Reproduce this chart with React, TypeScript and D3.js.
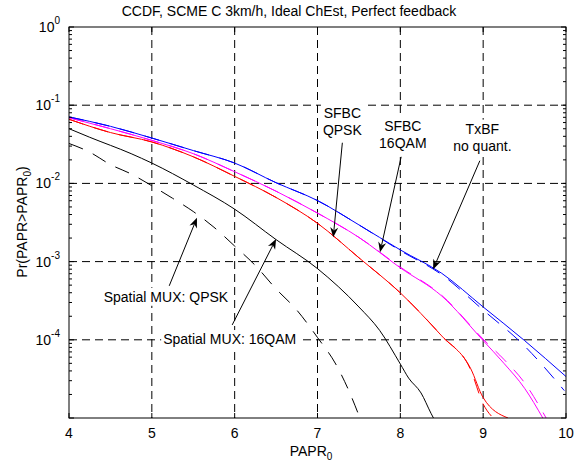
import React, { useRef, useEffect } from 'react';
import * as d3 from 'd3';

// PAPR0 values (dB) and CCDF values
const txbfSolid: [number, number][] = [
  [4, 0.0708], [4.5, 0.0537], [5, 0.038], [5.5, 0.0263], [6, 0.0182], [6.5, 0.0102],
  [7, 0.00603], [7.5, 0.00295], [8, 0.00141], [8.5, 0.000708], [9, 0.000263],
  [9.5, 0.0000977], [10, 0.0000339],
];
const txbfDashed: [number, number][] = [
  [4, 0.0708], [4.5, 0.0537], [5, 0.038], [5.5, 0.0263], [6, 0.0182], [6.5, 0.0102],
  [7, 0.00603], [7.5, 0.00295], [8, 0.00138], [8.5, 0.00068], [9, 0.00024],
  [9.5, 0.0000832], [9.98, 0.0000224],
];
const sfbc16Solid: [number, number][] = [
  [4, 0.0692], [4.5, 0.0501], [5, 0.0355], [5.5, 0.024], [6, 0.0141], [6.5, 0.00794],
  [7, 0.00417], [7.5, 0.00204], [8, 0.000832], [8.5, 0.000363], [9, 0.0000977],
  [9.25, 0.0000501], [9.5, 0.000024], [9.72, 0.00001],
];
const sfbc16Dashed: [number, number][] = [
  [4, 0.0692], [4.5, 0.0501], [5, 0.0355], [5.5, 0.024], [6, 0.0141], [6.5, 0.00794],
  [7, 0.00417], [7.5, 0.00204], [8, 0.00085], [8.5, 0.00037], [9, 0.000102],
  [9.25, 0.0000562], [9.5, 0.0000282], [9.76, 0.00001],
];
const sfbcQpskSolid: [number, number][] = [
  [4, 0.0661], [4.5, 0.0447], [5, 0.0339], [5.5, 0.0219], [6, 0.0123], [6.5, 0.00661],
  [7, 0.00309], [7.5, 0.00112], [8, 0.000398], [8.5, 0.000112], [8.85, 0.0000427],
  [9, 0.0000182], [9.3, 0.00001],
];
const sfbcQpskDashed: [number, number][] = [
  [4, 0.0661], [4.5, 0.0447], [5, 0.0339], [5.5, 0.0219], [6, 0.0123], [6.5, 0.00661],
  [7, 0.00309], [7.5, 0.00112], [8, 0.000398], [8.5, 0.000112], [8.85, 0.000041],
  [9, 0.0000151], [9.12, 0.00001],
];
const smux16Solid: [number, number][] = [
  [4, 0.0501], [4.25, 0.0389], [4.75, 0.024], [5, 0.0182], [5.5, 0.00955], [6, 0.00468],
  [6.5, 0.00191], [7, 0.000813], [7.5, 0.000263], [7.75, 0.000132], [8, 0.000049],
  [8.1, 0.0000324], [8.25, 0.0000209], [8.37, 0.0000115], [8.4, 0.00001],
];
const smuxQpskDashed: [number, number][] = [
  [4, 0.0324], [4.25, 0.0251], [4.5, 0.0174], [4.75, 0.0132], [5, 0.00933], [5.25, 0.00646],
  [5.5, 0.00437], [5.75, 0.00275], [6, 0.00158], [6.25, 0.000891], [6.5, 0.000447],
  [6.75, 0.00024], [7, 0.000107], [7.22, 0.000049], [7.37, 0.0000234], [7.52, 0.0000095],
];

const seriesList = [
  { data: smuxQpskDashed, color: '#000000', dashed: true },
  { data: smux16Solid, color: '#000000', dashed: false },
  { data: sfbcQpskDashed, color: '#ff0000', dashed: true },
  { data: sfbcQpskSolid, color: '#ff0000', dashed: false },
  { data: sfbc16Dashed, color: '#ff00ff', dashed: true },
  { data: sfbc16Solid, color: '#ff00ff', dashed: false },
  { data: txbfDashed, color: '#0000ff', dashed: true },
  { data: txbfSolid, color: '#0000ff', dashed: false },
];

const xTicks = [4, 5, 6, 7, 8, 9, 10];
const yDecades = [0, -1, -2, -3, -4];

// annotations: text centre, arrow tail and arrow tip in data units
const annotations = [
  { lines: ['SFBC', 'QPSK'], at: [7.3, -1.1], tail: [7.3, -1.48], tip: [7.19, -2.69] },
  { lines: ['SFBC', '16QAM'], at: [8.03, -1.27], tail: [8.01, -1.66], tip: [7.755, -2.88] },
  { lines: ['TxBF', 'no quant.'], at: [8.99, -1.3], tail: [8.96, -1.71], tip: [8.395, -3.1] },
  { lines: ['Spatial MUX: QPSK'], at: [5.17, -3.45], tail: [5.21, -3.31], tip: [5.545, -2.44] },
  { lines: ['Spatial MUX: 16QAM'], at: [5.94, -3.99], tail: [5.97, -3.81], tip: [6.5, -2.71] },
];

const FONT = '"Liberation Sans", Arial, sans-serif';

const CcdfChart = () => {
  const ref = useRef<SVGSVGElement>(null);

  useEffect(() => {
    const svg = d3.select(ref.current);
    svg.selectAll('*').remove();

    const left = 69, right = 566, top = 27, bottom = 418;
    const x = d3.scaleLinear().domain([4, 10]).range([left, right]);
    const y = d3.scaleLog().domain([1e-5, 1]).range([bottom, top]);

    svg.append('rect').attr('width', 574).attr('height', 467).attr('fill', '#fff');

    // grid
    const grid = svg.append('g').attr('stroke', '#000').attr('stroke-width', 1).attr('stroke-dasharray', '8,5');
    xTicks.slice(1, -1).forEach(t => {
      grid.append('line').attr('x1', x(t)).attr('x2', x(t)).attr('y1', top).attr('y2', bottom);
    });
    yDecades.slice(1).forEach(e => {
      grid.append('line').attr('x1', left).attr('x2', right).attr('y1', y(10 ** e)).attr('y2', y(10 ** e));
    });

    // curves
    svg.append('clipPath').attr('id', 'plotclip')
      .append('rect').attr('x', left).attr('y', top).attr('width', right - left).attr('height', bottom - top);
    const line = d3.line<[number, number]>()
      .x(d => x(d[0]))
      .y(d => y(d[1]))
      .curve(d3.curveMonotoneX);
    const curves = svg.append('g').attr('clip-path', 'url(#plotclip)');
    seriesList.forEach(s => {
      curves.append('path')
        .attr('d', line(s.data))
        .attr('fill', 'none')
        .attr('stroke', s.color)
        .attr('stroke-width', 1)
        .attr('stroke-dasharray', s.dashed ? '15,11' : null);
    });

    // axes box and ticks
    const axes = svg.append('g').attr('stroke', '#000').attr('stroke-width', 1);
    axes.append('rect').attr('x', left).attr('y', top).attr('width', right - left).attr('height', bottom - top)
      .attr('fill', 'none');
    xTicks.forEach(t => {
      axes.append('line').attr('x1', x(t)).attr('x2', x(t)).attr('y1', bottom).attr('y2', bottom - 5);
      axes.append('line').attr('x1', x(t)).attr('x2', x(t)).attr('y1', top).attr('y2', top + 5);
    });
    y.ticks().forEach(v => {
      const major = Math.abs(Math.log10(v) - Math.round(Math.log10(v))) < 1e-9;
      const len = major ? 5 : 3;
      axes.append('line').attr('x1', left).attr('x2', left + len).attr('y1', y(v)).attr('y2', y(v));
      axes.append('line').attr('x1', right).attr('x2', right - len).attr('y1', y(v)).attr('y2', y(v));
    });

    const txt = svg.append('g').attr('font-family', FONT).attr('font-size', 14).attr('fill', '#000');

    xTicks.forEach(t => {
      txt.append('text').attr('x', x(t)).attr('y', 438).attr('text-anchor', 'middle').text(t);
    });
    yDecades.forEach(e => {
      const t = txt.append('text').attr('x', 60).attr('y', y(10 ** e) + 5).attr('text-anchor', 'end');
      t.append('tspan').text('10');
      t.append('tspan').attr('font-size', 10).attr('dy', -8).text(e);
    });

    // title and axis labels
    txt.append('text').attr('x', 289).attr('y', 16).attr('text-anchor', 'middle')
      .text('CCDF, SCME C 3km/h, Ideal ChEst, Perfect feedback');
    const xl = txt.append('text').attr('x', 311).attr('y', 456).attr('text-anchor', 'middle');
    xl.append('tspan').text('PAPR');
    xl.append('tspan').attr('font-size', 10).attr('dy', 4).text('0');
    const yl = txt.append('text').attr('transform', 'translate(27,222) rotate(-90)').attr('text-anchor', 'middle');
    yl.append('tspan').text('Pr(PAPR>PAPR');
    yl.append('tspan').attr('font-size', 10).attr('dy', 4).text('0');
    yl.append('tspan').attr('dy', -4).text(')');

    // annotations with white boxes and arrows
    const pt = (p: number[]) => [x(p[0]), y(10 ** p[1])];
    annotations.forEach(a => {
      const g = svg.append('g');
      const [cx, cy] = pt(a.at);
      const bg = g.append('rect').attr('fill', '#fff');
      const t = g.append('text').attr('font-family', FONT).attr('font-size', 14).attr('text-anchor', 'middle');
      a.lines.forEach((l, i) => {
        t.append('tspan').attr('x', cx).attr('y', cy + 5 + i * 17).text(l);
      });
      const bb = (t.node() as SVGTextElement).getBBox();
      bg.attr('x', bb.x - 2).attr('y', bb.y - 1).attr('width', bb.width + 4).attr('height', bb.height + 2);

      const [x0, y0] = pt(a.tail);
      const [x1, y1] = pt(a.tip);
      const ang = Math.atan2(y1 - y0, x1 - x0);
      const L = 10, w = 4;
      const ca = Math.cos(ang), sa = Math.sin(ang);
      const bx = x1 - L * ca, by = y1 - L * sa;
      const nx = x1 - 0.7 * L * ca, ny = y1 - 0.7 * L * sa;
      g.append('line').attr('x1', x0).attr('y1', y0).attr('x2', nx).attr('y2', ny)
        .attr('stroke', '#000').attr('stroke-width', 1);
      g.append('path')
        .attr('d', `M${x1},${y1}L${bx - w * sa},${by + w * ca}L${nx},${ny}L${bx + w * sa},${by - w * ca}Z`)
        .attr('fill', '#000');
    });
  }, []);

  return <svg ref={ref} width={574} height={467} style={{ position: 'absolute', left: 0, top: 0 }} />;
};

export default function App() {
  return <CcdfChart />;
}
